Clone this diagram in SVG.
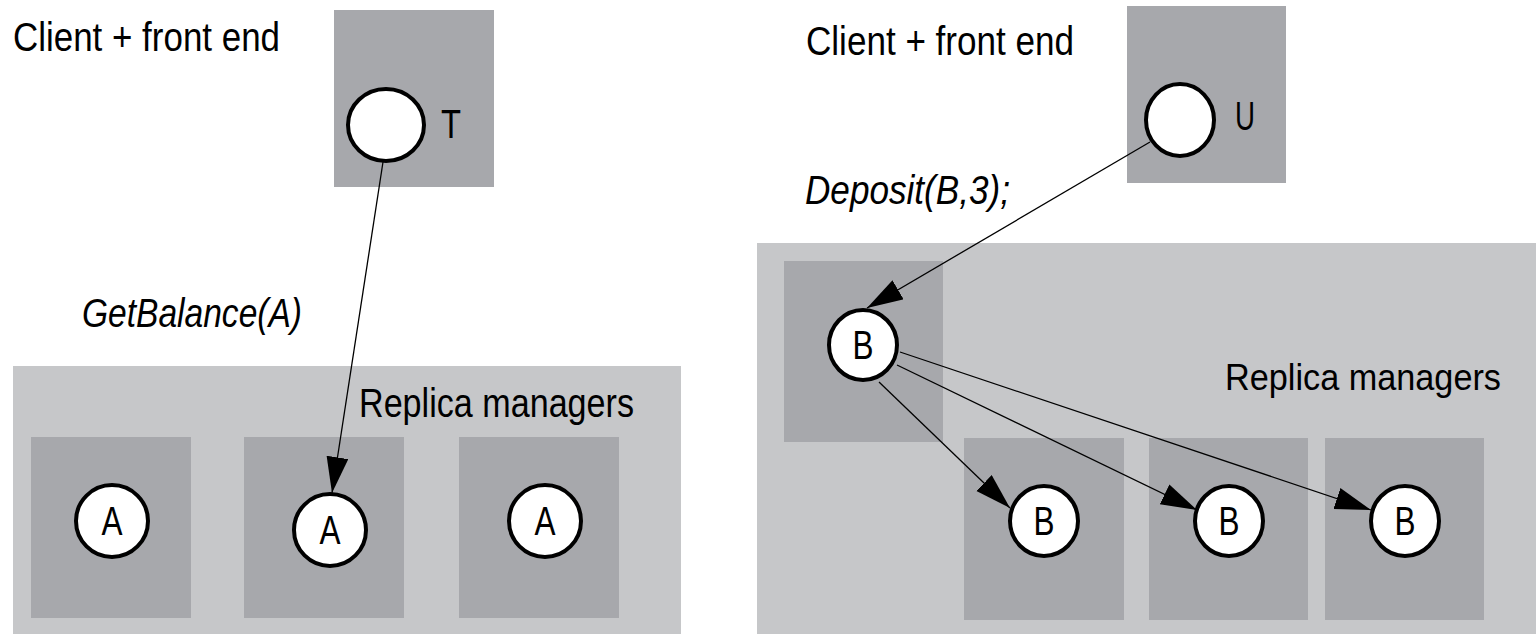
<svg xmlns="http://www.w3.org/2000/svg" width="1536" height="634" viewBox="0 0 1536 634">
<style>
.bg{fill:#c6c7c9}
.box{fill:#a7a8ac}
.node{fill:#ffffff;stroke:#000000;stroke-width:4}
.lbl{font-family:"Liberation Sans",Arial,sans-serif;font-size:40px;fill:#000000}
.sm{font-size:37px}
.it{font-style:italic}
.mid{text-anchor:middle}
.edge{stroke:#000000;stroke-width:1.3;fill:none;marker-end:url(#arrow)}
</style>
<defs>
<marker id="arrow" markerUnits="userSpaceOnUse" markerWidth="38" markerHeight="24" refX="36" refY="11" orient="auto">
<path d="M0,0 L36,11 L0,22 z" fill="#000000"/>
</marker>
</defs>
<rect width="1536" height="634" fill="#ffffff"/>

<g id="left-panel">
<g id="left-replica-group">
<rect class="bg" x="13" y="366" width="668" height="268"/>
<text class="lbl" x="359" y="417" textLength="275" lengthAdjust="spacingAndGlyphs">Replica managers</text>
</g>
<g id="left-client">
<text class="lbl" x="13" y="51" textLength="267" lengthAdjust="spacingAndGlyphs">Client + front end</text>
<rect class="box" x="334" y="10" width="160" height="177"/>
<ellipse class="node" cx="386" cy="125" rx="38" ry="36"/>
<text class="lbl" x="441" y="138" textLength="20" lengthAdjust="spacingAndGlyphs">T</text>
</g>
<g id="rmA1">
<rect class="box" x="31" y="437" width="160" height="181"/>
<ellipse class="node" cx="112" cy="521" rx="36" ry="36"/>
<text class="lbl mid" x="112" y="535" textLength="21" lengthAdjust="spacingAndGlyphs">A</text>
</g>
<g id="rmA2">
<rect class="box" x="244" y="437" width="160" height="181"/>
<ellipse class="node" cx="330" cy="530" rx="36" ry="36"/>
<text class="lbl mid" x="330" y="544" textLength="21" lengthAdjust="spacingAndGlyphs">A</text>
</g>
<g id="rmA3">
<rect class="box" x="459" y="437" width="160" height="181"/>
<ellipse class="node" cx="545" cy="521" rx="36" ry="36"/>
<text class="lbl mid" x="545" y="535" textLength="21" lengthAdjust="spacingAndGlyphs">A</text>
</g>
<text class="lbl it" x="82" y="327" textLength="220" lengthAdjust="spacingAndGlyphs">GetBalance(A)</text>
</g>

<g id="right-panel">
<g id="right-replica-group">
<rect class="bg" x="757" y="243" width="779" height="391"/>
<text class="lbl sm" x="1225" y="390" textLength="276" lengthAdjust="spacingAndGlyphs">Replica managers</text>
</g>
<g id="right-client">
<text class="lbl" x="806" y="55" textLength="268" lengthAdjust="spacingAndGlyphs">Client + front end</text>
<rect class="box" x="1127" y="6" width="159" height="177"/>
<ellipse class="node" cx="1180" cy="120" rx="34" ry="36"/>
<text class="lbl" x="1235" y="130" textLength="20" lengthAdjust="spacingAndGlyphs">U</text>
</g>
<g id="rmB0">
<rect class="box" x="784" y="261" width="159" height="181"/>
<ellipse class="node" cx="863" cy="345" rx="34" ry="35"/>
<text class="lbl mid" x="863" y="359" textLength="21" lengthAdjust="spacingAndGlyphs">B</text>
</g>
<g id="rmB1">
<rect class="box" x="964" y="438" width="160" height="182"/>
<ellipse class="node" cx="1044" cy="521" rx="34" ry="35"/>
<text class="lbl mid" x="1044" y="535" textLength="21" lengthAdjust="spacingAndGlyphs">B</text>
</g>
<g id="rmB2">
<rect class="box" x="1149" y="438" width="159" height="182"/>
<ellipse class="node" cx="1229" cy="521" rx="34" ry="35"/>
<text class="lbl mid" x="1229" y="535" textLength="21" lengthAdjust="spacingAndGlyphs">B</text>
</g>
<g id="rmB3">
<rect class="box" x="1325" y="438" width="159" height="182"/>
<ellipse class="node" cx="1405" cy="521" rx="34" ry="35"/>
<text class="lbl mid" x="1405" y="535" textLength="21" lengthAdjust="spacingAndGlyphs">B</text>
</g>
<text class="lbl it" x="805" y="204" textLength="205" lengthAdjust="spacingAndGlyphs">Deposit(B,3);</text>
</g>

<g id="connectors">
<line class="edge" x1="383" y1="162" x2="332" y2="493"/>
<line class="edge" x1="1150" y1="142" x2="867" y2="308"/>
<line class="edge" x1="879" y1="382" x2="1010" y2="508"/>
<line class="edge" x1="897" y1="365" x2="1197" y2="510"/>
<line class="edge" x1="900" y1="352" x2="1371" y2="510"/>
</g>
</svg>
